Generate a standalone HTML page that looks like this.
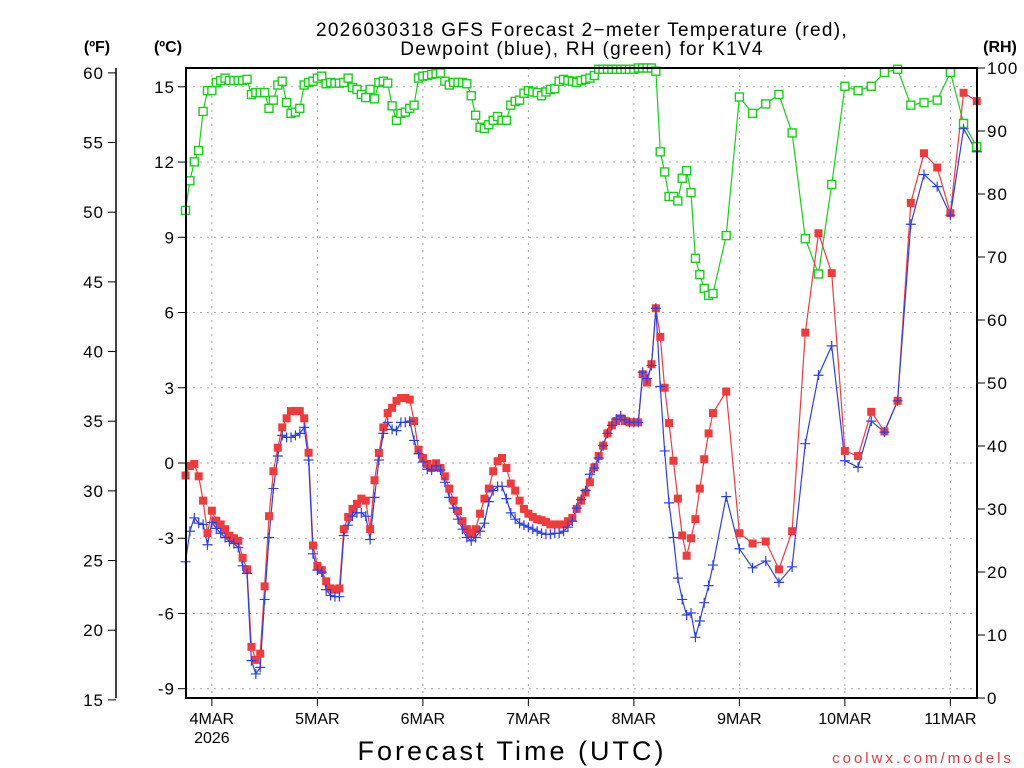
<!DOCTYPE html>
<html><head><meta charset="utf-8"><style>
html,body{margin:0;padding:0;background:#fff;}
svg{display:block;font-family:"Liberation Sans",sans-serif;}
</style></head><body>
<svg id="chart" width="1024" height="768" viewBox="0 0 1024 768" xmlns="http://www.w3.org/2000/svg">
<rect width="1024" height="768" fill="#fff"/>
<g id="grid"></g>
<g id="series"></g>
<g id="axes"></g>
<text x="582" y="36" text-anchor="middle" font-size="19" letter-spacing="1.3">2026030318 GFS Forecast 2−meter Temperature (red),</text>
<text x="582" y="55" text-anchor="middle" font-size="19" letter-spacing="1.3">Dewpoint (blue), RH (green) for K1V4</text>
<text x="97" y="52" text-anchor="middle" font-size="16" font-weight="bold">(ºF)</text>
<text x="168" y="52" text-anchor="middle" font-size="16" font-weight="bold">(ºC)</text>
<text x="1000" y="52" text-anchor="middle" font-size="16" font-weight="bold">(RH)</text>
<text x="512" y="760" text-anchor="middle" font-size="27" letter-spacing="3">Forecast Time (UTC)</text>
<text x="1014" y="763" text-anchor="end" font-size="15" fill="#e8383d" letter-spacing="3">coolwx.com/models</text>
</svg>
<script>
// data
var tempC = [-0.5,-0.12,-0.04,-0.53,-1.5,-2.8,-1.9,-2.3,-2.45,-2.64,-2.9,-3.0,-3.1,-3.78,-4.24,-7.33,-7.85,-7.6,-4.92,-2.12,-0.33,0.61,1.42,1.78,2.07,2.07,2.07,1.78,0.41,-3.29,-4.1,-4.27,-4.72,-5.0,-5.05,-5.0,-2.64,-2.15,-1.83,-1.63,-1.42,-1.5,-2.64,-0.69,0.4,1.42,1.99,2.2,2.48,2.59,2.59,2.53,1.67,0.53,0.2,-0.04,
-0.2,-0.01,-0.2,-0.53,-1.02,-1.5,-1.91,-2.32,-2.64,-2.8,-2.64,-2.02,-1.42,-1.02,-0.33,0.07,0.2,-0.2,-0.82,-1.1,-1.5,-1.83,-2.02,-2.15,-2.24,-2.28,-2.35,-2.45,-2.45,-2.45,-2.45,-2.32,-2.19,-1.83,-1.5,-1.18,-0.77,-0.17,0.28,0.69,1.18,1.5,1.67,1.78,1.67,1.62,1.62,1.62,3.54,3.21,3.94,6.17,5.03,3.0,1.59,
0.09,-1.42,-2.89,-3.7,-3.0,-2.24,-1.02,0.15,1.18,1.99,
2.85,-2.8,-3.21,-3.13,-4.24,-2.72,5.2,9.16,7.57,0.48,0.28,2.04,1.26,2.48,10.37,12.35,11.78,9.96,14.76,14.43];
var dewC = [-3.94,-2.72,-2.19,-2.4,-2.45,-3.26,-2.37,-2.61,-2.8,-2.97,-3.13,-3.21,-3.37,-4.1,-4.4,-7.88,-8.41,-8.15,-5.44,-2.97,-1.02,0.28,1.1,1.02,1.02,1.1,1.18,1.42,0.12,-3.62,-4.27,-4.35,-5.05,-5.28,-5.33,-5.33,-2.89,-2.48,-2.12,-1.99,-1.99,-2.12,-3.05,-1.37,0.12,1.18,1.62,1.34,1.29,1.62,1.62,1.67,0.9,0.37,0.04,-0.25,
-0.28,-0.12,-0.28,-0.77,-1.37,-1.8,-2.24,-2.64,-2.97,-3.1,-2.97,-2.72,-2.4,-1.54,-1.1,-0.93,-0.93,-1.42,-1.99,-2.24,-2.4,-2.48,-2.56,-2.64,-2.72,-2.8,-2.84,-2.84,-2.8,-2.8,-2.72,-2.56,-2.32,-1.8,-1.46,-1.1,-0.45,-0.2,0.2,0.69,1.18,1.5,1.75,1.88,1.72,1.62,1.62,1.62,3.62,3.37,3.89,6.17,3.05,0.48,-1.59,
-2.97,-4.59,-5.44,-6.06,-5.98,-6.95,-6.3,-5.57,-4.89,-4.07,
-1.34,-3.42,-4.18,-3.91,-4.76,-4.14,0.77,3.5,4.67,0.09,-0.17,1.67,1.23,2.48,9.52,11.5,11.02,9.88,13.33,12.41];
var rhPct = [77.4,82.1,85.1,86.9,93.1,96.4,96.4,97.7,98,98.4,98,98,98,98,98.2,95.8,96.1,96.1,96.1,93.6,94.9,97.3,97.9,94.5,92.8,93,93.6,97.3,97.7,97.9,98.4,98.7,97.5,97.7,97.6,97.6,97.7,98.4,96.9,96.6,95.8,95.3,96.6,95.1,97.7,97.9,97.6,94,91.7,92.8,93,93.6,94.1,98.4,98.7,98.8,
99,99.1,99.2,97.9,97.3,97.7,97.7,97.7,97.5,95.6,92.5,90.6,90.4,91,91.7,92.3,91.7,91.7,94.1,94.7,94.9,96,96.4,96.2,96.1,95.6,96.2,96.6,96.7,97.9,98.2,98,97.9,97.7,98,98.2,98.4,98.8,99.8,99.8,99.8,99.8,99.8,99.8,99.8,99.8,99.8,
100,100,100,100,99.5,86.7,83.5,79.6,79.6,78.9,82.5,83.7,80.2,69.8,67.2,65,63.9,64.2,
73.4,95.4,92.8,94.3,95.8,89.7,72.9,67.3,81.5,97.1,96.4,97.1,99.3,99.8,94.1,94.5,94.9,99.3,91.2,87.5];
var dayLabels = ["4MAR","5MAR","6MAR","7MAR","8MAR","9MAR","10MAR","11MAR"];
var cTicks = [15,12,9,6,3,0,-3,-6,-9];
var fTicks = [60,55,50,45,40,35,30,25,20,15];
var rhTicks = [100,90,80,70,60,50,40,30,20,10,0];

var hours = [];
for (var h = 0; h <= 120; h++) hours.push(h);
for (var h2 = 123; h2 <= 180; h2 += 3) hours.push(h2);

var L = 186, R = 977, T = 68, B = 698;
var PXH = 105.5 / 24;
function xH(h) { return L - 0.5 + h * PXH; }
function xDay(i) { return xH(6 + 24 * i); }
function yC(c) { return 463 - c * 25.08; }
function yF(f) { return yC((f - 32) / 1.8); }
function yRH(r) { return B - r * 6.3; }

var NS = "http://www.w3.org/2000/svg";
function mk(tag, attrs, parent) {
  var e = document.createElementNS(NS, tag);
  for (var k in attrs) e.setAttribute(k, attrs[k]);
  parent.appendChild(e);
  return e;
}
var grid = document.getElementById('grid');
var axes = document.getElementById('axes');
var series = document.getElementById('series');

cTicks.forEach(function (c) {
  var g = mk('line', {x1: L, x2: R, y1: yC(c), y2: yC(c), stroke: '#aaa', 'stroke-width': 1, 'stroke-dasharray': '2,5'}, grid);
  
  
});
dayLabels.forEach(function (d, i) {
  var g = mk('line', {x1: xDay(i), x2: xDay(i), y1: T, y2: B, stroke: '#aaa', 'stroke-width': 1, 'stroke-dasharray': '2,5'}, grid);
  
  
});

function poly(vals, yf, color, name) {
  var pts = vals.map(function (v, i) { return xH(hours[i]).toFixed(1) + ',' + yf(v).toFixed(1); }).join(' ');
  var p = mk('polyline', {points: pts, fill: 'none', stroke: color, 'stroke-width': 1.2}, series);
  
  
}
poly(rhPct, yRH, '#14d314', 'rh-line');
poly(tempC, yC, '#f23a3a', 'temperature-line');
poly(dewC, yC, '#2a40f0', 'dewpoint-line');

rhPct.forEach(function (v, i) {
  var m = mk('rect', {x: xH(hours[i]) - 4, y: yRH(v) - 4, width: 8, height: 8, fill: '#fff', stroke: '#14d314', 'stroke-width': 1.4}, series);
  
  
});
tempC.forEach(function (v, i) {
  var m = mk('rect', {x: xH(hours[i]) - 4, y: yC(v) - 4, width: 8, height: 8, fill: '#f23a3a'}, series);
  
  
});
dewC.forEach(function (v, i) {
  var x = xH(hours[i]), y = yC(v);
  var m = mk('path', {d: 'M' + (x - 5) + ' ' + y + 'H' + (x + 5) + 'M' + x + ' ' + (y - 5) + 'V' + (y + 5), stroke: '#2a40f0', 'stroke-width': 1.2, fill: 'none'}, series);
  
  
});

var fr = mk('rect', {x: L, y: T, width: R - L, height: B - T, fill: 'none', stroke: '#000', 'stroke-width': 2}, axes);



cTicks.forEach(function (c) {
  var t = mk('line', {x1: L - 8, x2: L, y1: yC(c), y2: yC(c), stroke: '#000', 'stroke-width': 1}, axes);
  
  
  var l = mk('text', {x: L - 11, y: yC(c) + 6, 'text-anchor': 'end', 'font-size': 17, 'letter-spacing': 1}, axes);
  l.textContent = String(c);
  
  
});
var fa = mk('line', {x1: 116, x2: 116, y1: T, y2: B, stroke: '#000', 'stroke-width': 1.5}, axes);


fTicks.forEach(function (f) {
  var t = mk('line', {x1: 108, x2: 116, y1: yF(f), y2: yF(f), stroke: '#000', 'stroke-width': 1}, axes);
  
  
  var l = mk('text', {x: 104, y: yF(f) + 6, 'text-anchor': 'end', 'font-size': 17, 'letter-spacing': 1}, axes);
  l.textContent = String(f);
  
  
});
rhTicks.forEach(function (r) {
  var t = mk('line', {x1: R, x2: R + 8, y1: yRH(r), y2: yRH(r), stroke: '#000', 'stroke-width': 1}, axes);
  
  
  var l = mk('text', {x: R + 10, y: yRH(r) + 6, 'text-anchor': 'start', 'font-size': 17, 'letter-spacing': 1}, axes);
  l.textContent = String(r);
  
  
});
dayLabels.forEach(function (d, i) {
  var x = xDay(i);
  var t = mk('line', {x1: x, x2: x, y1: B, y2: B + 8, stroke: '#000', 'stroke-width': 1}, axes);
  
  
  var l = mk('text', {x: x, y: B + 26, 'text-anchor': 'middle', 'font-size': 16}, axes);
  l.textContent = d;
  
  
});
var yr = mk('text', {x: xDay(0), y: B + 45, 'text-anchor': 'middle', 'font-size': 16}, axes);
yr.textContent = '2026';


</script>
</body></html>
